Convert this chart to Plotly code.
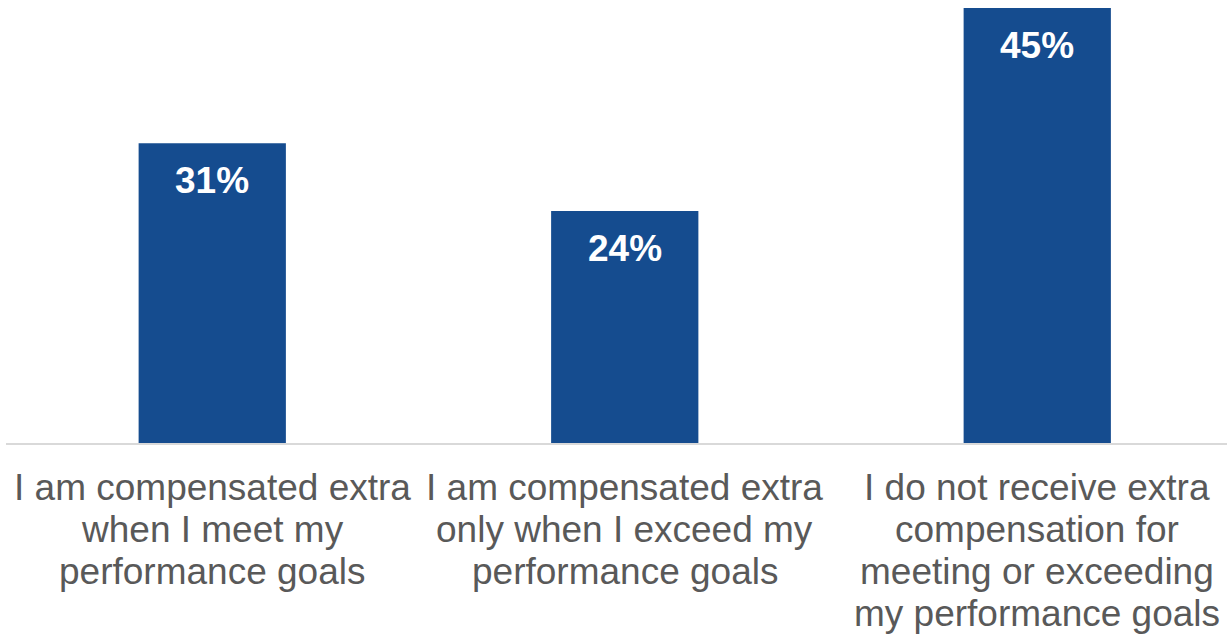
import plotly.graph_objects as go

# Survey responses on extra compensation tied to performance goals
categories = [
    "I am compensated extra<br>when I meet my<br>performance goals",
    "I am compensated extra<br>only when I exceed my<br>performance goals",
    "I do not receive extra<br>compensation for<br>meeting or exceeding<br>my performance goals",
]
shares = [31, 24, 45]

BAR_COLOR = "#154c8f"
TEXT_COLOR = "#595959"
FONT = "Liberation Sans, Arial, sans-serif"
LABEL_SIZE = 37
LINE_STEP = 42

xs = list(range(len(categories)))

fig = go.Figure(
    go.Bar(
        x=xs,
        y=shares,
        width=0.357,
        marker=dict(color=BAR_COLOR, line=dict(width=0)),
        hoverinfo="skip",
    )
)

annotations = []
# value labels just inside the top of each bar
for x, v in zip(xs, shares):
    annotations.append(dict(
        x=x, y=v, xref="x", yref="y",
        text=f"<b>{v}%</b>", showarrow=False,
        yanchor="top", yshift=-15,
        font=dict(family=FONT, size=LABEL_SIZE, color="white"),
    ))

# category labels, one line at a time for tighter line spacing
for x, cat in zip(xs, categories):
    for i, line in enumerate(cat.split("<br>")):
        annotations.append(dict(
            x=x, y=0, xref="x", yref="paper",
            text=line, showarrow=False,
            yanchor="top", yshift=-(22 + LINE_STEP * i),
            font=dict(family=FONT, size=LABEL_SIZE, color=TEXT_COLOR),
        ))

fig.update_layout(
    width=1227, height=636,
    margin=dict(l=6, r=0, t=8, b=193),
    paper_bgcolor="white", plot_bgcolor="white",
    showlegend=False,
    annotations=annotations,
    xaxis=dict(
        range=[-0.5, 2.46], showticklabels=False, ticks="",
        showgrid=False, zeroline=False,
        showline=True, linecolor="#d9d9d9", linewidth=2,
    ),
    yaxis=dict(
        range=[0, 45], visible=False, showgrid=False, zeroline=False,
    ),
)

fig.write_html("out.html")
